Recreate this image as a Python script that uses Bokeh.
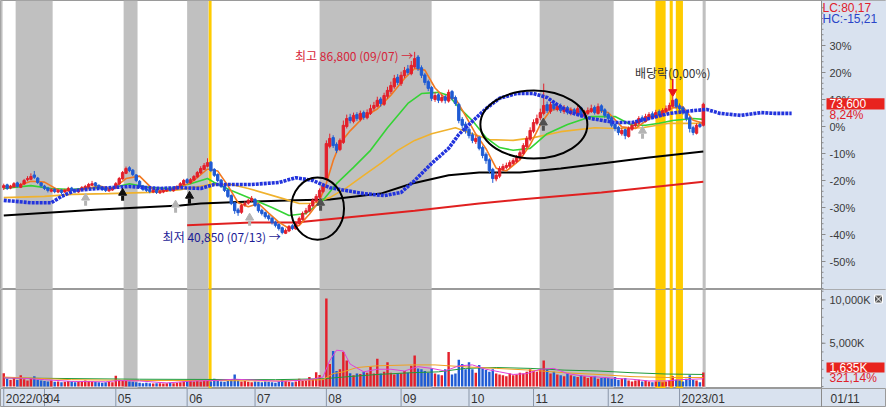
import numpy as np
from bokeh.plotting import figure
from bokeh.layouts import column
from bokeh.models import Range1d, BoxAnnotation, ColumnDataSource
from bokeh.core.properties import value
from bokeh.embed import file_html
from bokeh.resources import INLINE

# ---------------- data (prices in thousand won, volume in K shares) ----------------
BASE = 68.0  # previous close -> 0% line

open_ = [52.6, 53.3, 52.5, 52.8, 53.8, 52.7, 53.5, 54.6, 54.7, 55.8, 55.0, 53.8,
         53.0, 52.5, 51.7, 52.2, 51.5, 52.0, 51.5, 51.8, 52.5, 52.0, 51.5, 52.0, 52.5, 52.7, 53.2, 53.8, 53.2, 52.7, 52.3, 51.8, 52.0,
         52.5, 53.5, 54.8, 56.2, 57.6, 57.0, 55.8, 54.2, 53.0, 52.3, 52.1, 51.5, 52.0, 51.3, 51.5, 51.8, 52.3, 51.8, 52.3, 52.8, 53.4,
         54.6, 53.8, 54.5, 55.3, 56.3, 57.2, 58.0, 59.0, 57.2, 55.9, 54.5, 53.0, 52.0, 50.6, 48.8, 47.0, 46.4, 48.3, 48.7, 49.3,
         49.6, 48.3, 46.9, 46.3, 45.5, 44.9, 43.9, 43.3, 42.5, 41.1, 41.7, 43.0, 42.2, 43.6, 44.6, 46.3, 46.7, 48.0, 49.2, 50.2, 51.6,
         55.0, 63.0, 65.2, 63.5, 62.2, 64.0, 68.0, 70.3, 69.3, 71.0, 69.8, 71.5, 70.2, 71.3, 72.6, 73.1, 74.9, 73.6, 75.6, 76.8, 78.0, 80.4,
         78.8, 80.8, 82.5, 81.3, 83.0, 85.5, 82.8, 81.0, 79.3, 77.8, 74.8, 76.0, 74.5, 75.5, 74.4, 76.8, 75.3, 73.6, 69.8, 68.6,
         67.3, 65.9, 64.2, 65.3, 62.7, 61.0, 59.6, 57.2, 54.8, 55.5, 57.2, 57.7, 58.0, 58.7, 59.2, 60.0, 61.2, 62.9, 64.8,
         66.8, 68.8, 70.2, 71.3, 73.5, 71.8, 73.6, 72.3, 73.2, 71.8, 72.8, 71.3, 72.2, 71.0, 72.7, 70.6, 71.3, 71.8, 72.8, 71.3, 73.2, 72.2,
         71.0, 70.2, 68.5, 67.8, 66.2, 67.2, 65.5, 67.3, 68.2, 68.8, 70.2, 69.3, 70.3, 71.2, 70.3, 71.8, 70.8, 71.8, 72.3, 73.1, 74.8,
         73.2, 72.7, 71.8, 70.2, 67.7, 66.3, 68.5, 68.3]
high = [53.6, 53.6, 53.3, 54.0, 54.1, 53.8, 54.8, 55.5, 56.2, 56.8, 55.3, 54.0,
        53.3, 52.8, 52.5, 52.5, 52.3, 52.2, 52.3, 52.8, 52.8, 52.3, 52.4, 53.0, 53.3, 53.8, 54.3, 54.0, 53.4, 53.0, 52.6, 52.5, 52.8,
        54.0, 55.3, 56.8, 57.9, 58.0, 57.3, 56.0, 54.5, 53.3, 52.6, 52.4, 52.2, 52.3, 52.0, 52.2, 52.5, 52.6, 52.7, 53.2, 54.0, 54.8,
        55.0, 55.0, 55.8, 56.8, 58.0, 58.8, 60.0, 59.3, 57.5, 56.2, 54.8, 53.3, 52.3, 50.9, 49.0, 47.5, 48.5, 49.2, 49.8, 50.5,
        50.0, 48.6, 47.3, 46.6, 45.9, 45.2, 44.3, 43.6, 42.8, 42.3, 43.2, 43.4, 44.2, 45.3, 46.6, 47.5, 48.6, 49.9, 51.0, 52.4, 53.8,
        64.5, 66.2, 65.8, 64.0, 65.0, 69.5, 71.0, 71.2, 71.5, 71.6, 72.0, 72.0, 72.3, 73.5, 74.2, 75.5, 75.4, 76.5, 78.0, 79.3, 81.0, 81.2,
        81.8, 83.0, 83.5, 84.5, 86.8, 86.0, 83.4, 81.5, 79.8, 78.2, 76.6, 76.4, 76.0, 76.0, 77.3, 77.2, 75.8, 74.0, 70.4, 69.2,
        67.8, 66.5, 65.8, 65.6, 63.2, 61.5, 60.0, 57.6, 56.5, 58.0, 58.6, 58.9, 59.5, 60.0, 60.8, 62.0, 63.8, 65.6, 67.8,
        69.8, 71.0, 72.5, 78.8, 74.3, 74.2, 74.3, 73.8, 73.8, 73.4, 73.2, 72.8, 72.7, 73.3, 73.0, 72.2, 72.8, 73.5, 73.3, 73.8, 73.6, 72.6,
        71.5, 70.6, 69.0, 68.2, 67.6, 67.5, 68.0, 68.9, 69.6, 70.6, 70.8, 71.2, 71.6, 71.8, 72.2, 72.3, 72.6, 73.3, 74.0, 75.5, 75.2,
        73.8, 73.1, 72.2, 70.6, 68.2, 68.8, 69.0, 74.0]
low = [52.0, 52.0, 52.2, 52.6, 52.6, 52.5, 53.3, 54.2, 54.5, 54.8, 53.5, 52.6,
       52.0, 51.4, 51.4, 51.2, 51.2, 51.0, 51.2, 51.6, 51.6, 51.2, 51.3, 51.8, 52.2, 52.5, 53.0, 52.8, 52.3, 51.8, 51.5, 51.5, 51.8,
       52.3, 53.3, 54.6, 56.0, 56.5, 55.5, 54.0, 52.5, 51.8, 51.5, 51.2, 51.2, 51.0, 51.0, 51.2, 51.5, 51.6, 51.6, 52.0, 52.6, 53.2,
       53.5, 53.5, 54.3, 55.0, 56.0, 57.0, 57.7, 56.5, 55.3, 54.0, 52.5, 51.5, 50.0, 48.2, 46.0, 45.5, 46.0, 47.8, 48.3, 49.0,
       47.7, 46.3, 45.6, 44.8, 44.3, 43.3, 42.6, 41.8, 40.85, 40.9, 41.4, 41.9, 42.0, 43.3, 44.3, 45.8, 46.4, 47.6, 48.8, 49.8, 51.2,
       54.6, 62.5, 62.6, 61.3, 61.8, 63.6, 67.5, 68.8, 68.8, 69.4, 69.3, 69.7, 69.8, 70.9, 72.0, 72.8, 73.0, 73.2, 75.0, 76.2, 77.5, 78.4,
       78.2, 80.2, 81.0, 80.9, 82.6, 82.0, 80.2, 78.4, 76.9, 74.4, 74.2, 73.9, 74.0, 73.8, 74.0, 74.6, 73.2, 68.8, 67.5, 66.2,
       65.0, 63.8, 63.6, 62.0, 60.0, 58.6, 56.2, 53.8, 54.2, 55.0, 56.8, 57.2, 57.6, 58.3, 58.8, 59.6, 60.8, 62.5, 64.3,
       66.3, 68.3, 69.6, 70.8, 71.4, 71.2, 72.0, 71.8, 71.4, 71.2, 71.0, 70.8, 70.8, 70.6, 70.2, 70.2, 70.9, 71.4, 71.0, 71.0, 71.4, 70.2,
       69.5, 67.8, 66.8, 65.8, 65.7, 64.8, 65.2, 66.9, 67.8, 68.4, 69.0, 69.0, 69.9, 70.0, 70.0, 70.5, 70.5, 71.4, 72.0, 72.8, 72.5,
       72.0, 71.0, 69.3, 66.5, 65.8, 66.0, 67.6, 68.0]
close = [53.1, 52.4, 52.9, 53.6, 52.9, 53.4, 54.4, 54.9, 55.4, 55.2, 53.9, 53.1,
         52.4, 51.9, 52.1, 51.6, 51.9, 51.4, 51.9, 52.4, 51.9, 51.6, 52.1, 52.6, 52.9, 53.4, 53.6, 53.1, 52.6, 52.1, 51.9, 52.1, 52.4,
         53.6, 54.9, 56.4, 57.4, 56.9, 55.9, 54.4, 52.9, 52.1, 51.9, 51.6, 51.9, 51.4, 51.6, 51.9, 52.1, 51.9, 52.4, 52.9, 53.6, 54.4,
         53.9, 54.6, 55.4, 56.4, 57.4, 58.2, 58.9, 56.9, 55.7, 54.4, 52.9, 51.9, 50.4, 48.6, 46.8, 46.3, 48.1, 48.6, 49.4, 49.9,
         48.1, 46.8, 46.1, 45.3, 44.8, 43.8, 43.1, 42.3, 41.3, 41.8, 42.8, 42.3, 43.8, 44.8, 46.1, 46.8, 48.1, 49.4, 50.4, 51.9, 53.1,
         63.7, 65.0, 63.2, 62.0, 64.5, 68.3, 70.0, 69.5, 70.8, 70.0, 71.3, 70.3, 71.5, 72.5, 73.3, 74.6, 73.8, 75.8, 77.1, 78.3, 80.1, 79.1,
         80.9, 82.1, 81.6, 83.4, 85.1, 82.6, 80.9, 79.1, 77.6, 75.1, 75.8, 74.6, 75.3, 74.6, 76.6, 75.1, 73.8, 69.5, 68.3, 67.0,
         65.7, 64.5, 65.0, 62.5, 60.7, 59.4, 56.9, 54.9, 55.7, 57.4, 57.9, 58.2, 58.9, 59.4, 60.2, 61.4, 63.2, 65.0, 67.0,
         69.0, 70.0, 71.5, 73.3, 72.0, 73.5, 72.5, 73.0, 72.0, 72.5, 71.5, 72.0, 71.3, 72.5, 70.8, 71.5, 72.0, 72.5, 71.5, 73.0, 72.0, 70.8,
         70.0, 68.3, 67.5, 66.5, 67.0, 65.7, 67.5, 68.3, 69.0, 70.0, 69.5, 70.5, 71.0, 70.5, 71.5, 71.0, 72.0, 72.5, 73.3, 74.6, 73.0,
         72.5, 71.5, 70.0, 67.5, 66.5, 68.3, 68.0, 73.6]
volume = [1550, 900, 800, 1000, 750, 1300, 850, 700, 1000, 1200, 800, 700,
          650, 600, 700, 550, 600, 500, 550, 650, 600, 500, 550, 600, 700, 650, 600, 550, 500, 450, 500, 550, 500,
          1250, 800, 700, 650, 600, 550, 500, 450, 400, 450, 400, 350, 400, 400, 350, 400, 450, 400, 450, 500, 600,
          700, 650, 600, 750, 600, 700, 650, 600, 900, 700, 600, 550, 650, 800, 1400, 700, 600, 650, 550, 500,
          600, 550, 500, 600, 550, 500, 450, 600, 800, 650, 550, 500, 600, 900, 650, 700, 1100, 850, 1650, 1350, 900,
          10150, 2600, 4100, 1800, 2000, 4000, 3000, 1550, 1300, 1500, 1450, 1700, 1600, 2300, 1500, 3200, 1500, 1700, 2800, 1600, 1400, 1550,
          1500, 1800, 1600, 2400, 3600, 2100, 2000, 1800, 1600, 2100, 1500, 1400, 1300, 2000, 4000, 1400, 1500, 3100, 2600, 2000,
          2800, 2000, 1600, 2500, 2100, 1900, 1700, 2000, 1500, 1400, 1300, 1200, 1500, 1300, 1400, 1600, 1500, 1700, 2000,
          1800, 1700, 2000, 3000, 2000, 1500, 1700, 1400, 1300, 1200, 1500, 1300, 1200, 1100, 1300, 1200, 1000, 1100, 1200, 900, 1000, 1100,
          1000, 900, 1100, 800, 900, 1000, 700, 600, 700, 800, 600, 700, 600, 500, 600, 550, 500, 600, 700, 1200, 800,
          700, 600, 900, 1300, 800, 700, 509.12, 1635]

# moving-average lines (trading-day index, price)
ma5_idx = [0, 4, 8, 12, 16, 20, 24, 28, 32, 36, 40, 44, 48, 52, 56, 60, 63, 66, 69, 72, 75, 78, 81, 84, 87, 90, 93, 95, 97, 99,
           102, 106, 110, 114, 118, 121, 124, 127, 130, 133, 136, 139, 142, 145, 148, 152, 155, 158, 161, 165, 170, 175, 178, 182,
           186, 190, 194, 197, 200, 203, 206]
ma5_val = [52.9, 53.0, 54.2, 54.0, 52.0, 51.9, 52.2, 53.1, 52.2, 54.9, 55.5, 52.1, 51.8, 52.6, 54.4, 57.3, 56.8, 53.1, 48.8, 47.8,
           48.6, 46.2, 43.9, 42.3, 43.1, 45.9, 49.3, 53.7, 59.4, 63.7, 66.9, 70.4, 72.4, 75.9, 80.1, 82.6, 82.2, 77.7, 75.1, 75.1,
           70.7, 66.1, 62.4, 57.5, 56.8, 59.6, 63.4, 68.5, 72.1, 72.7, 71.6, 72.1, 71.5, 67.9, 67.5, 70.0, 71.2, 72.7, 73.0, 69.6, 68.8]
ma20_idx = [0, 8, 14, 20, 26, 31, 37, 43, 49, 55, 60, 62, 67, 72, 79, 84, 89, 94, 98, 103, 108, 113, 119, 123, 128, 131, 134,
            138, 142, 146, 150, 155, 160, 166, 173, 180, 185, 189, 193, 197, 203, 206]
ma20_val = [52.4, 53.1, 52.4, 52.1, 52.6, 52.4, 53.6, 52.6, 52.4, 53.6, 54.9, 53.9, 51.9, 50.1, 47.6, 45.6, 46.1, 49.4, 53.6, 57.7,
            62.0, 67.7, 73.8, 76.3, 76.6, 75.8, 72.8, 69.5, 65.2, 62.7, 62.0, 62.5, 66.2, 68.5, 70.5, 70.5, 68.3, 68.3, 68.8, 69.5,
            70.0, 69.8]
ma60_idx = [0, 12, 20, 31, 43, 52, 61, 67, 72, 82, 87, 91, 96, 101, 106, 111, 116, 121, 126, 133, 138, 143, 150, 156, 164, 174,
            180, 188, 196, 206]
ma60_val = [50.1, 50.4, 50.9, 51.1, 51.4, 52.1, 53.4, 53.4, 52.4, 49.9, 48.6, 48.6, 50.1, 52.6, 55.7, 58.7, 62.0, 64.5, 66.2, 67.7,
            66.2, 64.7, 64.5, 65.2, 66.7, 67.7, 67.5, 67.7, 68.8, 68.8]
ma120_idx = [0, 28, 52, 58, 73, 86, 96, 101, 111, 120, 131, 140, 152, 164, 176, 190, 206]
ma120_val = [45.6, 47.1, 48.1, 48.6, 49.1, 49.4, 49.6, 50.1, 51.1, 53.6, 55.7, 56.4, 56.4, 57.4, 58.7, 60.2, 61.7]
ma240_idx = [54, 73, 86, 101, 121, 140, 152, 176, 206]
ma240_val = [43.1, 43.8, 43.8, 45.1, 46.8, 48.6, 49.6, 51.4, 54.1]
lead_idx = [0, 8, 14, 17, 21, 28, 37, 46, 52, 58, 62, 73, 81, 86, 91, 96, 106, 112, 117, 121, 126, 131, 134, 138, 142, 146, 151,
            156, 160, 163, 167, 173, 180, 185, 190, 196, 203, 207, 211, 217, 223, 227, 232]
lead_val = [49.4, 48.8, 48.8, 50.4, 51.9, 52.4, 52.9, 52.4, 52.6, 52.4, 53.4, 53.4, 53.9, 55.1, 54.4, 52.6, 51.1, 50.6, 51.4, 54.4,
            58.7, 62.5, 66.0, 69.3, 72.5, 75.1, 76.3, 76.3, 75.3, 73.5, 71.5, 70.0, 69.0, 69.0, 70.0, 71.3, 72.0, 72.3, 71.3, 70.8,
            71.5, 71.3, 71.3]

# volume moving averages (index, K)
vma5_idx = [0, 6, 12, 20, 30, 34, 40, 48, 56, 62, 68, 74, 82, 90, 94, 96, 98, 100, 102, 106, 110, 114, 118, 122, 126, 130, 134,
            138, 142, 146, 150, 154, 158, 162, 166, 170, 175, 180, 185, 190, 195, 199, 203, 206]
vma5_val = [1000, 950, 800, 600, 550, 700, 650, 420, 650, 700, 850, 750, 600, 800, 1100, 3000, 4200, 4100, 2600, 1700, 2000, 2000,
            1800, 2300, 2100, 1800, 2400, 2500, 2000, 1700, 1400, 1500, 2000, 2100, 1500, 1250, 1100, 950, 850, 650, 650, 800, 850, 900]
vma20_idx = [0, 20, 40, 60, 80, 94, 97, 100, 104, 110, 120, 127, 135, 145, 155, 165, 175, 185, 195, 206]
vma20_val = [1100, 800, 700, 700, 650, 800, 1500, 1700, 2200, 2400, 2500, 2500, 2300, 2100, 1900, 1600, 1400, 1150, 1050, 1050]
vma60_idx = [0, 40, 80, 94, 100, 110, 120, 128, 136, 145, 155, 165, 175, 185, 195, 206]
vma60_val = [1000, 850, 800, 900, 1100, 1400, 1600, 1700, 2100, 2200, 2100, 1900, 1800, 1600, 1450, 1400]

# date axis
month_labels = ["2022/03", "04", "05", "06", "07", "08", "09", "10", "11", "12", "2023/01"]
month_idx = [0, 12, 33, 54, 74, 95, 117, 137, 156, 178, 199]
last_date = "01/11"

# axis ticks
pticks = [-50, -40, -30, -20, -10, 0, 10, 20, 30]
pminor = list(range(-60, 46, 2))
vticks = [5000, 10000]
vminor = list(range(0, 11001, 1000))

# shaded periods (index ranges)
gray_start = [-0.96, 3.5, 35.3, 54.0, 93.0, 157.8, 205.8]
gray_end = [-0.35, 14.4, 39.4, 60.3, 126.0, 179.6, 206.7]
yellow_start = [60.35, 191.9, 196.1, 197.9]
yellow_end = [61.2, 194.9, 197.0, 200.0]

# signal arrows (index, % level, colour)
sig_idx = [24.1, 35.0, 50.6, 54.7, 72.4, 93.3, 158.9, 188.1]
sig_pct = [-27.4, -25.6, -30.0, -26.7, -34.8, -29.3, 0.4, -2.6]
sig_col = ["#b4b4b4", "#101010", "#b4b4b4", "#101010", "#b4b4b4", "#505050", "#505050", "#b4b4b4"]

# ---------------- geometry ----------------
W = 886
HP, HV, HD = 289, 99, 19
PXD = 3.396                 # pixels per trading day
X0 = -0.956                 # left edge (index)
X1 = X0 + 821 / PXD         # right-axis line (index)
XE = X0 + W / PXD           # right edge (index)
Y_TOP, Y_BOT = 46.67, -60.37
V_BOT, V_TOP = -220, 11200
AXBG = "#d9e2ef"
RED, BLUE = "#e3202b", "#1f5bd4"
FONT = "Liberation Sans"
KFONT = "Noto Sans CJK KR"
AXC = "#8a8a8a"
TXC = "#3a3a3a"


def pct(a):
    return (np.asarray(a, dtype=float) / BASE - 1.0) * 100.0


def rx(px):
    return X1 + px / PXD


n = len(close)
assert len(open_) == n and len(high) == n and len(low) == n and len(volume) == n
idx = np.arange(n)
o, h, l, c = map(np.asarray, (open_, high, low, close))
up = c >= o
cols = [RED if u else BLUE for u in up]

src = ColumnDataSource(dict(x=idx, top=pct(np.maximum(o, c)), bot=pct(np.minimum(o, c)),
                            hi=pct(h), lo=pct(l), col=cols, vol=volume))

xr = Range1d(X0, XE)


def make_fig(height, y0, y1):
    f = figure(width=W, height=height, x_range=xr, y_range=Range1d(y0, y1), x_axis_type=None, y_axis_type=None,
               output_backend="svg", toolbar_location=None, min_border=0, background_fill_color="white",
               border_fill_color=AXBG, outline_line_color="#9a9a9a")
    for s, e in zip(gray_start, gray_end):
        f.add_layout(BoxAnnotation(left=s, right=e, fill_color="#c0c0c0", fill_alpha=1, line_alpha=0, level="underlay"))
    for s, e in zip(yellow_start, yellow_end):
        f.add_layout(BoxAnnotation(left=s, right=e, fill_color="#ffcc00", fill_alpha=1, line_alpha=0, level="underlay"))
    f.add_layout(BoxAnnotation(left=X1, right=XE, fill_color=AXBG, fill_alpha=1, line_alpha=0, level="underlay"))
    return f


def right_axis(f, ticks, labels, minor, y0, y1):
    f.segment(x0=[X1], x1=[X1], y0=[y0], y1=[y1], line_color=AXC, line_width=1)
    f.segment(x0=[X1] * len(minor), x1=[rx(2)] * len(minor), y0=minor, y1=minor, line_color=AXC, line_width=1)
    f.segment(x0=[X1] * len(ticks), x1=[rx(4)] * len(ticks), y0=ticks, y1=ticks, line_color=AXC, line_width=1)
    f.text(x=[rx(8)] * len(ticks), y=ticks, text=labels, text_align="left", text_baseline="middle",
           text_font=value(FONT), text_font_size="11px", text_color=TXC)


# ---------------- price panel ----------------
p = make_fig(HP, Y_BOT, Y_TOP)
right_axis(p, pticks, [f"{t}%" for t in pticks], pminor, Y_BOT, Y_TOP)

p.line(ma120_idx, pct(ma120_val), line_color="#000000", line_width=2)
p.line(ma240_idx, pct(ma240_val), line_color="#e02020", line_width=2)
p.line(ma60_idx, pct(ma60_val), line_color="#f0b22e", line_width=1.6)
p.line(ma20_idx, pct(ma20_val), line_color="#35d335", line_width=1.6)
p.line(ma5_idx, pct(ma5_val), line_color="#f27a22", line_width=1.6)

p.segment(x0="x", x1="x", y0="lo", y1="hi", line_color="col", line_width=1, source=src)
p.vbar(x="x", width=0.7, top="top", bottom="bot", fill_color="col", line_color="col", line_width=1, source=src)

p.line(lead_idx, pct(lead_val), line_color="#2233dd", line_width=3.6, line_dash="3 1")

# circled regions
p.ellipse(x=[92.4, 156.1], y=[-30.4, 0.74], width=[15.6, 31.5], height=[23.0, 25.2],
          fill_alpha=0, line_color="black", line_width=2)

# signal arrows
p.scatter(x=sig_idx, y=[v + 1.0 for v in sig_pct], marker="triangle", size=8, fill_color=sig_col, line_color=sig_col)
p.rect(x=sig_idx, y=[v - 1.0 for v in sig_pct], width=3, height=5, width_units="screen", height_units="screen",
       fill_color=sig_col, line_color=None)

# high / low annotations
imax = int(np.argmax(h))
imin = int(np.argmin(l))
p.text(x=[imax - 0.4], y=[pct(h[imax]) - 1.3], text=[f"최고 {h[imax]*1000:,.0f} (09/07) →"],
       text_align="right", text_baseline="middle", text_color="#d6243a",
       text_font=value(KFONT), text_font_size="12px")
p.text(x=[imin - 0.4], y=[pct(l[imin]) - 0.8], text=[f"최저 {l[imin]*1000:,.0f} (07/13) →"],
       text_align="right", text_baseline="middle", text_color="#1c1c96",
       text_font=value(KFONT), text_font_size="12px")

# ex-dividend marker
idiv = 197
p.text(x=[idiv], y=[20.0], text=["배당락(0,00%)"], text_align="center", text_baseline="middle",
       text_color="#333333", text_font=value(KFONT), text_font_size="12px")
p.segment(x0=[idiv], x1=[idiv], y0=[17.6], y1=[13.8], line_color="#e8141c", line_width=1.5)
p.scatter(x=[idiv], y=[12.8], marker="inverted_triangle", size=8, fill_color="#e8141c", line_color="#e8141c")

# right-side price labels
lc = (c[-1] / l.min() - 1) * 100
hc = (c[-1] / h.max() - 1) * 100
chg = (c[-1] / BASE - 1) * 100
p.text(x=[rx(1)], y=[Y_TOP - 0.3], text=[f"LC:{lc:.2f}".replace(".", ",")], text_align="left", text_baseline="top",
       text_color="#e0202a", text_font=value(FONT), text_font_size="12px")
p.text(x=[rx(1)], y=[Y_TOP - 4.1], text=[f"HC:{hc:.2f}".replace(".", ",")], text_align="left", text_baseline="top",
       text_color="#2a45c8", text_font=value(FONT), text_font_size="12px")
p.quad(left=[rx(5)], right=[rx(63)], bottom=[chg - 1.9], top=[chg + 2.2], fill_color="#e8231e", line_color=None)
p.text(x=[rx(8)], y=[chg + 0.15], text=[f"{c[-1]*1000:,.0f}"], text_align="left", text_baseline="middle",
       text_color="white", text_font=value(FONT), text_font_size="12px")
p.text(x=[rx(8)], y=[chg - 4.1], text=[f"{chg:.2f}%".replace(".", ",")], text_align="left", text_baseline="middle",
       text_color="#e0202a", text_font=value(FONT), text_font_size="12px")

# ---------------- volume panel ----------------
v = make_fig(HV, V_BOT, V_TOP)
right_axis(v, vticks, [f"{t:,}K" for t in vticks], vminor, V_BOT, V_TOP)

v.vbar(x="x", width=0.72, top="vol", bottom=0, fill_color="col", line_color=None, source=src)
v.line(vma60_idx, vma60_val, line_color="#1f9a3a", line_width=1)
v.line(vma20_idx, vma20_val, line_color="#f0a020", line_width=1)
v.line(vma5_idx, vma5_val, line_color="#e040d8", line_width=1)

vchg = volume[-1] / volume[-2] * 100
v.quad(left=[rx(5)], right=[rx(63)], bottom=[volume[-1] - 20], top=[volume[-1] + 1130], fill_color="#e8231e",
       line_color=None)
v.text(x=[rx(8)], y=[volume[-1] + 560], text=[f"{volume[-1]:,.0f}K"], text_align="left", text_baseline="middle",
       text_color="white", text_font=value(FONT), text_font_size="12px")
v.text(x=[rx(8)], y=[volume[-1] - 700], text=[f"{vchg:.2f}%".replace(".", ",")], text_align="left",
       text_baseline="middle", text_color="#e0202a", text_font=value(FONT), text_font_size="12px")
v.scatter(x=[rx(57)], y=[V_TOP - 1100], marker="square_x", size=8, fill_color="#5a5a5a", line_color="white")

# ---------------- date strip ----------------
d = figure(width=W, height=HD, x_range=xr, y_range=Range1d(0, 1), x_axis_type=None,
           y_axis_type=None, output_backend="svg", toolbar_location=None, min_border=0,
           background_fill_color=AXBG, border_fill_color=AXBG, outline_line_color="#9a9a9a")
d.segment(x0=month_idx, x1=month_idx, y0=0, y1=1, line_color="#8a96a8", line_width=1)
d.segment(x0=[X1], x1=[X1], y0=0, y1=1, line_color=AXC, line_width=1)
d.text(x=month_idx, y=0.45, text=month_labels, x_offset=2, text_baseline="middle", text_align="left",
       text_font=value(FONT), text_font_size="12px", text_color="#333333")
d.text(x=[X1], y=0.45, text=[last_date], x_offset=9, text_baseline="middle", text_align="left",
       text_font=value(FONT), text_font_size="12px", text_color="#333333")

layout = column(p, v, d, spacing=0)
open("out.html", "w").write(file_html(layout, INLINE))
